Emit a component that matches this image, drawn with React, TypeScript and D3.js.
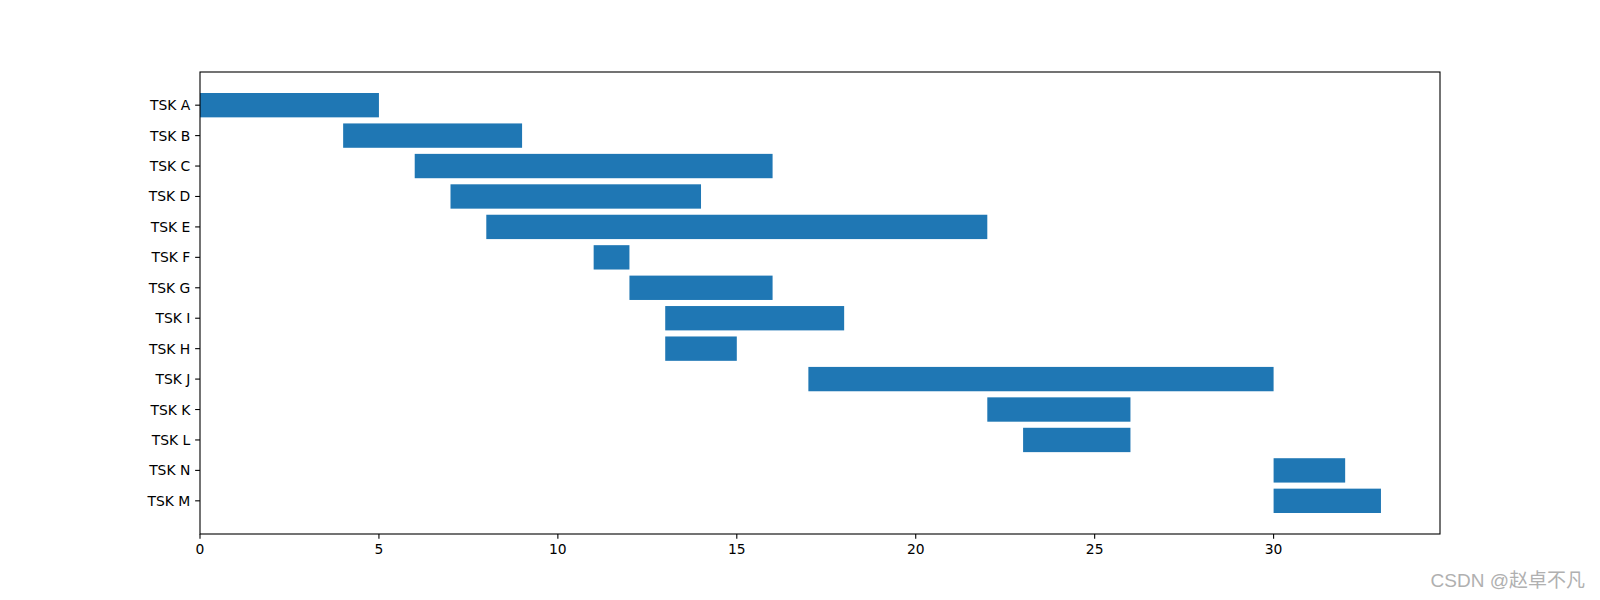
import React from "react";
import * as d3 from "d3";

const tasks = ["TSK A", "TSK B", "TSK C", "TSK D", "TSK E", "TSK F", "TSK G", "TSK I", "TSK H", "TSK J", "TSK K", "TSK L", "TSK N", "TSK M"];
const starts = [0, 4, 6, 7, 8, 11, 12, 13, 13, 17, 22, 23, 30, 30];
const ends = [5, 9, 16, 14, 22, 12, 16, 18, 15, 30, 26, 26, 32, 33];
const xTicks = [0, 5, 10, 15, 20, 25, 30];

const W = 1600, H = 600;
const L = 200, R = 1440, T = 72, B = 534;
const barH = 0.8;

export default function App() {
  const xMax = d3.max(ends)! * 1.05;
  const x = d3.scaleLinear().domain([0, xMax]).range([L, R]);
  const n = tasks.length;
  const lo = -barH / 2, hi = n - 1 + barH / 2;
  const pad = (hi - lo) * 0.05;
  const y = d3.scaleLinear().domain([lo - pad, hi + pad]).range([T, B]);
  const font = "'DejaVu Sans', sans-serif";
  const fs = 13.89;
  return (
    <svg width={W} height={H} style={{ position: "absolute", left: 0, top: 0 }}>
      <rect x={0} y={0} width={W} height={H} fill="white" />
      {tasks.map((t, i) => (
        <rect key={t} x={x(starts[i])} y={y(i - barH / 2)} width={x(ends[i]) - x(starts[i])} height={y(i + barH / 2) - y(i - barH / 2)} fill="#1f77b4" />
      ))}
      <rect x={L} y={T} width={R - L} height={B - T} fill="none" stroke="black" strokeWidth={1.1} />
      {xTicks.map((v) => (
        <g key={v}>
          <line x1={x(v)} x2={x(v)} y1={B} y2={B + 4.86} stroke="black" strokeWidth={1.1} />
          <text x={x(v)} y={B + 9.7} dy="0.76em" textAnchor="middle" fontFamily={font} fontSize={fs}>{v}</text>
        </g>
      ))}
      {tasks.map((t, i) => (
        <g key={t}>
          <line x1={L - 4.86} x2={L} y1={y(i)} y2={y(i)} stroke="black" strokeWidth={1.1} />
          <text x={L - 9.7} y={y(i)} dy="0.36em" textAnchor="end" fontFamily={font} fontSize={fs}>{t}</text>
        </g>
      ))}
      <text x={1585} y={587} textAnchor="end" fontFamily="'Liberation Sans', 'Noto Sans CJK SC', sans-serif" fontSize={19} fill="#b0b0b0">CSDN @赵卓不凡</text>
    </svg>
  );
}
